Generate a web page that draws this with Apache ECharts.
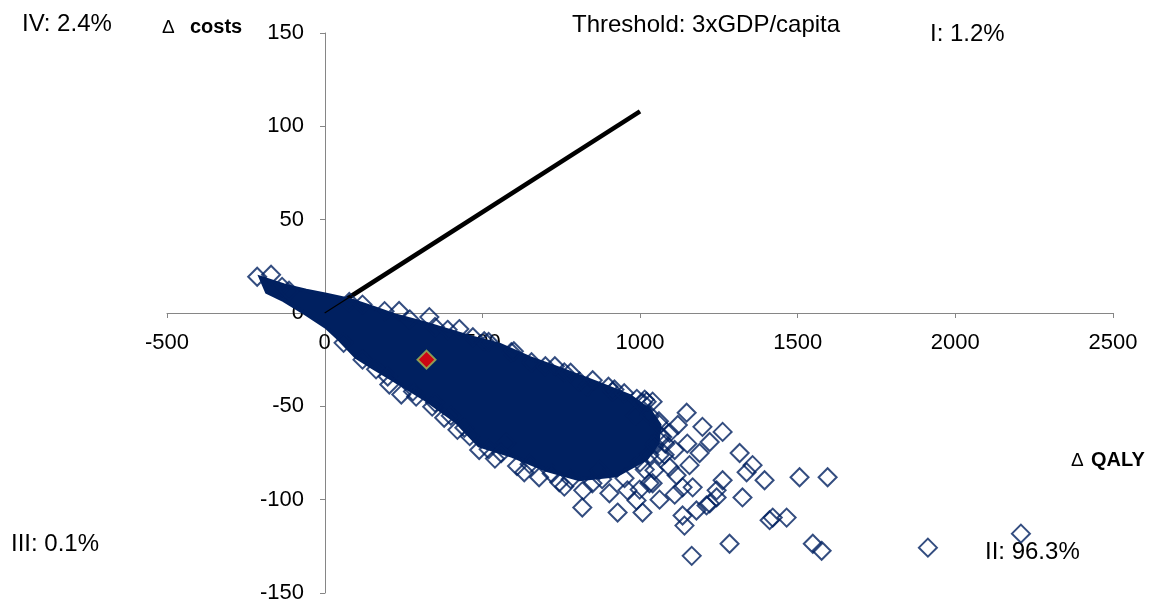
<!DOCTYPE html>
<html>
<head>
<meta charset="utf-8">
<script src="https://cdn.jsdelivr.net/npm/echarts@6/dist/echarts.min.js"></script>
<style>
html,body{margin:0;padding:0;background:#fff;}
#chart{width:1157px;height:608px;}
</style>
</head>
<body>
<div id="chart"></div>
<script>
// Dense core of the simulation cloud (outline of the solid area), [ΔQALY, Δcosts]
const coreOutline = [
  [-202,18.8],[-129,14.8],[-59,12.0],[5,9.8],[78,7.2],[151,3.0],[227,-1.5],[310,-5.2],
  [386,-9.0],[468,-13.2],[554,-17.0],[649,-24.0],[754,-30.5],[871,-38.0],[967,-44.5],
  [1030,-52.0],[1062,-60.0],[1055,-70.0],[1020,-78.0],[925,-87.0],[808,-89.0],[703,-84.0],[595,-76.5],
  [490,-71.0],[417,-58.0],[363,-51.5],[322,-46.5],[259,-40.0],[151,-29.0],[100,-23.5],
  [46,-14.0],[5,-7.5],[-59,-0.5],[-129,6.8],[-183,11.2]
];
// Individually visible simulation points
const outlierPoints = [
  [-214,19.4],[-170,20.5],[-135,14.0],[-113,11.9],[78,5.9],[236,1.1],[332,-2.2],[427,-8.6],[506,-15.1],
  [592,-21.0],[656,-26.4],[760,-31.8],[808,-36.7],[919,-41.0],[1008,-48.0],[1040,-47.5],
  [1148,-53.4],[1262,-63.7],[1198,-61.0],[1221,-69.1],[1316,-75.0],[1357,-81.5],[1395,-89.6],
  [1506,-88.0],[1595,-88.0],[1338,-85.3],[1325,-98.8],[1284,-123.6],[1164,-130.1],[1421,-109.6],
  [1465,-109.6],[1548,-123.6],[1576,-127.4],[1141,-113.9],[1135,-108.5],[1211,-103.1],[1243,-98.8],
  [1262,-89.6],[1167,-93.4],[1116,-86.9],[1094,-64.2],[1189,-75.0],[1157,-81.5],[1040,-91.2],
  [1008,-106.9],[1913,-125.7],[2208,-118.2],[817,-104.2],[929,-106.9],[1411,-111.0],[1021,-47.5],
  [913,-42.1],[833,-39.4],[744,-90.7],[633,-85.3],[490,-73.4],[421,-62.6],[576,-69.6],[1071,-66.4],
  [1094,-82.6],[1135,-93.4],[1221,-102.0],[1179,-105.8],[1243,-95.0],[1030,-91.2],[989,-100.4],
  [903,-96.6],[849,-91.2],[163,-30.2],[205,-38.3],[243,-43.7],[290,-44.8],[341,-50.2],[379,-56.1],
  [443,-61.5],[871,-84.2],[951,-88.5],[1062,-76.1],[1110,-73.4],[1046,-84.2],
  [540,-78.0],[610,-82.0],[680,-88.0],[760,-93.0],[820,-95.0],[960,-95.0],[1000,-80.0],
  [1080,-70.0],[1060,-58.0],[985,-55.0],[700,-28.5],[850,-36.0],[1120,-60.0],[1150,-70.0],
  [120,4.5],[190,1.0],[270,-3.5],[350,-7.5],[390,-9.0],[470,-13.0],[520,-15.5],[600,-20.5],
  [730,-28.5],[780,-32.0],[900,-39.5],[950,-43.0],[990,-46.0],
  [60,-16.0],[120,-25.0],[200,-34.0],[280,-42.0],[350,-48.0],[400,-55.0],[460,-66.0],[520,-73.0],
  [560,-75.0],[650,-81.0],[720,-86.0],[780,-89.0],[880,-89.0],[1030,-76.0],[1065,-66.0],
  [1015,-46.4],[1030,-54.5],[1062,-59.8],[1046,-70.5],[1078,-75.9],[1015,-83.9],[999,-94.6],
  [1062,-100.0],[1110,-97.3]
];
// Mean point
const meanPoint = [[323,-25]];
// Threshold line: 3 x GDP per capita
const thresholdLine = [[0,0],[1000,108]];

const FONT = 'Liberation Sans, Arial, sans-serif';
const chart = echarts.init(document.getElementById('chart'));
chart.setOption({
  animation:false,
  backgroundColor:'#fff',
  grid:{left:167,right:44,top:33,bottom:15,containLabel:false,outerBoundsMode:'none'},
  xAxis:{
    type:'value',min:-500,max:2500,interval:500,position:'bottom',offset:-280,
    axisLine:{onZero:false,lineStyle:{color:'#868686',width:1}},
    axisTick:{show:true,length:5,lineStyle:{color:'#868686'}},
    splitLine:{show:false},
    axisLabel:{color:'#000',fontSize:22,fontFamily:FONT,margin:19,formatter:v=>String(v)}
  },
  yAxis:{
    type:'value',min:-150,max:150,interval:50,position:'left',offset:-158,
    axisLine:{onZero:false,lineStyle:{color:'#868686',width:1}},
    axisTick:{show:true,length:5,lineStyle:{color:'#868686'}},
    splitLine:{show:false},
    axisLabel:{color:'#000',fontSize:22,fontFamily:FONT,margin:21,formatter:v=>String(v)}
  },
  series:[
    {type:'line',data:thresholdLine,z:1,symbol:'none',lineStyle:{color:'#000',width:4.5},silent:true},
    {type:'custom',z:2,data:coreOutline,encode:{x:0,y:1},clip:true,
      renderItem:function(params,api){
        if(params.dataIndex!==0) return null;
        const pts = coreOutline.map(p=>api.coord(p));
        return {type:'polygon',shape:{points:pts,smooth:0},style:{fill:'#002060',stroke:'#002060',lineWidth:4}};
      }},
    {type:'scatter',z:3,data:outlierPoints,symbol:'diamond',symbolSize:18,
      itemStyle:{color:'rgba(0,0,0,0)',borderColor:'#002060',borderWidth:2}},
    {type:'line',data:thresholdLine,z:4,symbol:'none',lineStyle:{color:'#000',width:1.2},silent:true},
    {type:'scatter',z:5,data:meanPoint,symbol:'diamond',symbolSize:18,
      itemStyle:{color:'#FF0000',borderColor:'#9BBB59',borderWidth:2}}
  ],
  graphic:[
    {type:'text',left:22,top:12,style:{text:'IV: 2.4%',font:'24px '+FONT,fill:'#000'}},
    {type:'text',left:162,top:18,style:{text:'Δ',font:'19px '+FONT,fill:'#000'}},
    {type:'text',left:190,top:17,style:{text:'costs',font:'bold 20px '+FONT,fill:'#000'}},
    {type:'text',left:572,top:13,style:{text:'Threshold: 3xGDP/capita',font:'24px '+FONT,fill:'#000'}},
    {type:'text',left:930,top:22,style:{text:'I: 1.2%',font:'24px '+FONT,fill:'#000'}},
    {type:'text',left:11,top:532,style:{text:'III: 0.1%',font:'24px '+FONT,fill:'#000'}},
    {type:'text',left:985,top:540,style:{text:'II: 96.3%',font:'24px '+FONT,fill:'#000'}},
    {type:'text',left:1071,top:451,style:{text:'Δ',font:'19px '+FONT,fill:'#000'}},
    {type:'text',left:1091,top:450,style:{text:'QALY',font:'bold 20px '+FONT,fill:'#000'}}
  ]
});
</script>
</body>
</html>
